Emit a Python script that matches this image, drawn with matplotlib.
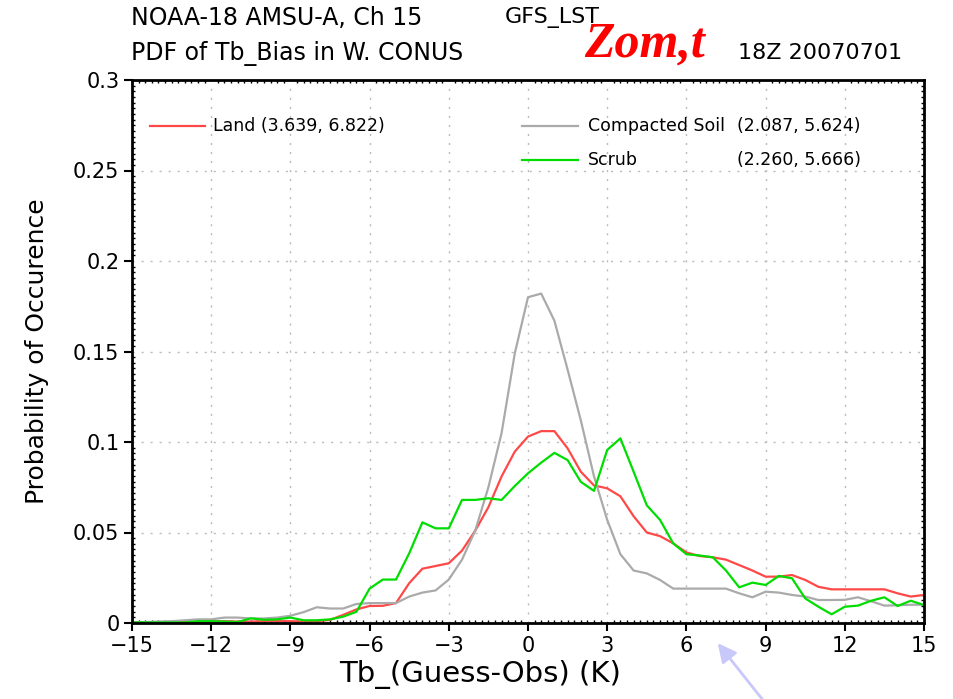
import numpy as np
import matplotlib
matplotlib.use("Agg")
import matplotlib.pyplot as plt
from matplotlib.ticker import MultipleLocator
from matplotlib.lines import Line2D

plt.rcParams['font.family'] = ['DejaVu Sans']

# bias bins (K), 0.5 K spacing
tb_bias = np.arange(-15, 15.01, 0.5)

land = [0.0002, 0.0002, 0.0003, 0.0003, 0.0005, 0.0005, 0.0008, 0.001, 0.0008, 0.0008,
        0.001, 0.001, 0.001, 0.0008, 0.001, 0.0017, 0.0045, 0.0075, 0.0094, 0.0095,
        0.011, 0.022, 0.030, 0.0315, 0.033, 0.040, 0.051, 0.064, 0.081, 0.0947,
        0.103, 0.106, 0.106, 0.0965, 0.0836, 0.076, 0.0744, 0.070, 0.059, 0.050,
        0.048, 0.044, 0.039, 0.037, 0.0363, 0.035, 0.032, 0.029, 0.0256, 0.0256,
        0.0265, 0.0238, 0.020, 0.0186, 0.0186, 0.0186, 0.0186, 0.0186, 0.0164, 0.0146,
        0.0155]

compacted_soil = [0.0005, 0.0005, 0.0008, 0.001, 0.0015, 0.002, 0.002, 0.003, 0.003, 0.0025,
                  0.0025, 0.003, 0.004, 0.006, 0.0087, 0.008, 0.008, 0.0105, 0.011, 0.011,
                  0.011, 0.0146, 0.0168, 0.018, 0.024, 0.035, 0.051, 0.075, 0.105, 0.149,
                  0.180, 0.182, 0.167, 0.140, 0.112, 0.081, 0.057, 0.038, 0.029, 0.0274,
                  0.0238, 0.019, 0.019, 0.019, 0.019, 0.019, 0.0164, 0.0142, 0.0173, 0.0168,
                  0.0155, 0.0146, 0.0127, 0.0127, 0.0128, 0.0142, 0.012, 0.0096, 0.0098, 0.0101,
                  0.0101]

scrub = [0.0003, 0.0003, 0.0003, 0.0003, 0.0003, 0.001, 0.001, 0.0008, 0.0005, 0.0026,
         0.0018, 0.002, 0.003, 0.0015, 0.0015, 0.002, 0.0035, 0.0062, 0.019, 0.024,
         0.024, 0.0385, 0.0556, 0.0523, 0.0523, 0.068, 0.068, 0.0689, 0.068, 0.0757,
         0.0827, 0.0886, 0.094, 0.090, 0.078, 0.073, 0.0956, 0.102, 0.0836, 0.065,
         0.057, 0.044, 0.038, 0.0373, 0.0363, 0.029, 0.0197, 0.0223, 0.021, 0.026,
         0.0247, 0.0136, 0.009, 0.0048, 0.009, 0.0096, 0.0123, 0.0142, 0.0094, 0.0123,
         0.0099]

xticks = np.arange(-15, 16, 3)
yticks = [0, 0.05, 0.1, 0.15, 0.2, 0.25, 0.3]
ytick_labels = ['0', '0.05', '0.1', '0.15', '0.2', '0.25', '0.3']

W, H = 954, 699
fig = plt.figure(figsize=(W / 100, H / 100), dpi=100)
ax = fig.add_axes([132 / W, 1 - 623 / H, 792 / W, 543 / H])

red = '#ff4848'
gray = '#aaaaaa'
green = '#00dd00'
ax.plot(tb_bias, land, color=red, lw=1.6)
ax.plot(tb_bias, compacted_soil, color=gray, lw=1.6)
ax.plot(tb_bias, scrub, color=green, lw=1.6)

ax.set_xlim(-15, 15)
ax.set_ylim(0, 0.3)
ax.set_xticks(xticks)
ax.set_xticklabels([str(t).replace('-', '\u2212') for t in xticks])
ax.set_yticks(yticks)
ax.set_yticklabels(ytick_labels)
ax.xaxis.set_minor_locator(MultipleLocator(0.25))
ax.yaxis.set_minor_locator(MultipleLocator(0.05 / 16))
ax.tick_params(which='major', direction='out', length=6, width=1.5, labelsize=15, pad=3)
ax.tick_params(which='minor', direction='in', length=2.5, width=1, top=True, right=True)
for s in ax.spines.values():
    s.set_linewidth(2)
ax.grid(True, which='major', color='#bbbbbb', linestyle=(0, (1.5, 5)), lw=1)

ax.set_xlabel('Tb_(Guess-Obs) (K)', fontsize=21)
ax.xaxis.set_label_coords(0.44, -0.068)
ax.set_ylabel('Probability of Occurence', fontsize=18)
ax.yaxis.set_label_coords(-0.105, 0.5)

# legend
fs = 12.5
ax.add_line(Line2D([0.0227, 0.0922], [0.915, 0.915], transform=ax.transAxes, color=red, lw=1.6))
ax.text(0.1023, 0.915, 'Land (3.639, 6.822)', transform=ax.transAxes, fontsize=fs, va='center')
ax.add_line(Line2D([0.492, 0.563], [0.915, 0.915], transform=ax.transAxes, color=gray, lw=1.6))
ax.text(0.576, 0.915, 'Compacted Soil', transform=ax.transAxes, fontsize=fs, va='center')
ax.text(0.764, 0.915, '(2.087, 5.624)', transform=ax.transAxes, fontsize=fs, va='center')
ax.add_line(Line2D([0.492, 0.563], [0.853, 0.853], transform=ax.transAxes, color=green, lw=1.6))
ax.text(0.576, 0.853, 'Scrub', transform=ax.transAxes, fontsize=fs, va='center')
ax.text(0.764, 0.853, '(2.260, 5.666)', transform=ax.transAxes, fontsize=fs, va='center')

# titles
fig.text(131 / W, 1 - 18 / H, 'NOAA-18 AMSU-A, Ch 15', fontsize=17, va='center')
fig.text(505 / W, 1 - 18 / H, 'GFS_LST', fontsize=16, va='center')
fig.text(131 / W, 1 - 53 / H, 'PDF of Tb_Bias in W. CONUS', fontsize=17, va='center')
fig.text(738 / W, 1 - 53 / H, '18Z 20070701', fontsize=16, va='center')
fig.text(584 / W, 1 - 45 / H, 'Zom,t', fontsize=36, color='red', family='Liberation Serif',
         style='italic', weight='bold', va='center')

# annotation arrow
ax.annotate('', xy=(716, H - 641), xycoords='figure pixels',
            xytext=(770, -10), textcoords='figure pixels',
            arrowprops=dict(arrowstyle='-|>', color='#c8c8fa', lw=2, mutation_scale=28),
            annotation_clip=False)

fig.savefig('out.png', dpi=100)
